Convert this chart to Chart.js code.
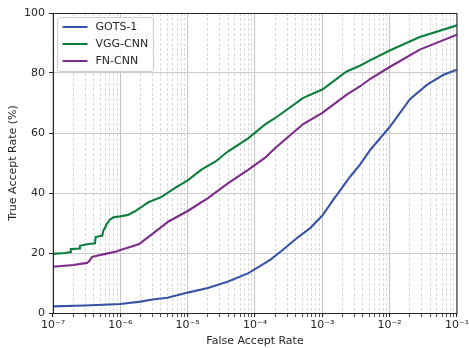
<!DOCTYPE html>
<html>
<head>
<meta charset="utf-8">
<script src="https://cdn.jsdelivr.net/npm/chart.js@4.4.1/dist/chart.umd.min.js"></script>
<style>
  html, body { margin: 0; padding: 0; background: #ffffff; }
  #wrap { width: 469px; height: 348px; position: relative; }
</style>
</head>
<body>
<div id="wrap"><canvas id="c" width="469" height="348"></canvas></div>
<script>
// ---- Data ----
const seriesLabels = ['GOTS-1', 'VGG-CNN', 'FN-CNN'];
const seriesColors = ['#3753a5', '#0c7f3d', '#7d2b8b'];

const gotsFar = [1e-7, 3e-7, 1e-6, 2e-6, 3e-6, 5e-6, 1e-5, 2e-5, 4e-5, 8e-5, 1.4e-4, 1.7e-4, 2.6e-4, 4.2e-4, 6.6e-4, 1e-3, 1.46e-3, 2.6e-3, 3.6e-3, 5.2e-3, 1e-2, 2e-2, 3.6e-2, 6.3e-2, 1e-1];
const gotsTar = [2.2, 2.5, 3.0, 3.8, 4.5, 5.1, 6.8, 8.3, 10.5, 13.3, 16.6, 17.8, 21.1, 25.0, 28.3, 32.5, 37.8, 45.5, 49.4, 54.5, 62.0, 71.3, 76.1, 79.4, 81.1];

const vggFar = [1e-7, 1.5e-7, 1.83e-7, 1.84e-7, 2.5e-7, 2.51e-7, 3.2e-7, 4.2e-7, 4.3e-7, 5.4e-7, 5.6e-7, 5.9e-7, 6.3e-7, 7e-7, 7.9e-7, 1e-6, 1.3e-6, 1.65e-6, 1.96e-6, 2.6e-6, 4.1e-6, 6.5e-6, 1e-5, 1.6e-5, 2.6e-5, 4e-5, 8e-5, 1.4e-4, 2e-4, 5.2e-4, 1e-3, 2.3e-3, 3.6e-3, 5.1e-3, 1e-2, 2.8e-2, 1e-1];
const vggTar = [19.7, 20.0, 20.3, 21.3, 21.5, 22.4, 22.9, 23.2, 25.3, 25.8, 27.5, 28.3, 29.7, 31.1, 31.9, 32.2, 32.7, 33.9, 35.0, 36.9, 38.7, 41.7, 44.2, 47.8, 50.5, 53.9, 58.3, 62.8, 65.0, 71.7, 74.5, 80.5, 82.4, 84.2, 87.5, 92.0, 95.9];

const fnFar = [1e-7, 2e-7, 3.2e-7, 3.5e-7, 3.8e-7, 4.5e-7, 6e-7, 8.8e-7, 1e-6, 1.4e-6, 1.9e-6, 2.9e-6, 5.2e-6, 1e-5, 2e-5, 4e-5, 8e-5, 1.4e-4, 2e-4, 5.2e-4, 1e-3, 2.3e-3, 3.6e-3, 5.1e-3, 1e-2, 2.8e-2, 1e-1];
const fnTar = [15.4, 16.0, 16.7, 17.5, 18.7, 19.1, 19.7, 20.5, 21.0, 22.0, 23.0, 26.1, 30.5, 34.0, 38.3, 43.3, 47.8, 51.7, 55.0, 63.0, 66.7, 72.8, 75.5, 78.0, 82.0, 87.8, 92.8];

// Axis ticks
const xDecades = [-7, -6, -5, -4, -3, -2, -1];
const xMultipliers = [1, 2, 3, 4, 5, 6, 7, 8, 9];
const yTicks = [0, 20, 40, 60, 80, 100];
const xTitle = 'False Accept Rate';
const yTitle = 'True Accept Rate (%)';

// ---- Build chart ----
const xTickValues = [];
xDecades.forEach((d, i) => {
  if (i === xDecades.length - 1) { xTickValues.push(Math.pow(10, d)); return; }
  xMultipliers.forEach(m => xTickValues.push(parseFloat((m * Math.pow(10, d)).toPrecision(3))));
});
const isMajor = v => Math.abs(Math.log10(v) - Math.round(Math.log10(v))) < 1e-6;
const sup = {'-': '\u207B', '0': '\u2070', '1': '\u00B9', '2': '\u00B2', '3': '\u00B3', '4': '\u2074', '5': '\u2075', '6': '\u2076', '7': '\u2077', '8': '\u2078', '9': '\u2079'};
const toSup = s => String(s).split('').map(ch => sup[ch] || ch).join('');

const mk = (xs, ys) => xs.map((x, i) => ({x: x, y: ys[i]}));
const seriesData = [mk(gotsFar, gotsTar), mk(vggFar, vggTar), mk(fnFar, fnTar)];

const textColor = '#262626';
const FONT = 'DejaVu Sans';

const framePlugin = {
  id: 'frame',
  afterDatasetsDraw(chart) {
    const a = chart.chartArea, ctx = chart.ctx;
    ctx.save();
    ctx.strokeStyle = '#262626';
    ctx.lineWidth = 1;
    ctx.strokeRect(Math.round(a.left) + 0.5, Math.round(a.top) + 0.5, Math.round(a.right - a.left) - 0.5, Math.round(a.bottom - a.top));
    ctx.restore();
  }
};

const legendPlugin = {
  id: 'insideLegend',
  afterDraw(chart) {
    const a = chart.chartArea, ctx = chart.ctx;
    const x0 = a.left + 4.5, y0 = a.top + 4.5, w = 96, h = 54, r = 3;
    ctx.save();
    ctx.beginPath();
    ctx.moveTo(x0 + r, y0);
    ctx.lineTo(x0 + w - r, y0); ctx.quadraticCurveTo(x0 + w, y0, x0 + w, y0 + r);
    ctx.lineTo(x0 + w, y0 + h - r); ctx.quadraticCurveTo(x0 + w, y0 + h, x0 + w - r, y0 + h);
    ctx.lineTo(x0 + r, y0 + h); ctx.quadraticCurveTo(x0, y0 + h, x0, y0 + h - r);
    ctx.lineTo(x0, y0 + r); ctx.quadraticCurveTo(x0, y0, x0 + r, y0);
    ctx.closePath();
    ctx.fillStyle = 'rgba(255,255,255,0.85)';
    ctx.fill();
    ctx.strokeStyle = '#cccccc';
    ctx.lineWidth = 1;
    ctx.stroke();
    ctx.font = '11px "' + FONT + '"';
    ctx.textBaseline = 'middle';
    ctx.textAlign = 'left';
    chart.data.datasets.forEach((ds, i) => {
      const yy = y0 + 9.5 + i * 17;
      ctx.strokeStyle = ds.borderColor;
      ctx.lineWidth = 2;
      ctx.beginPath();
      ctx.moveTo(x0 + 5, yy); ctx.lineTo(x0 + 30, yy);
      ctx.stroke();
      ctx.fillStyle = textColor;
      ctx.fillText(ds.label, x0 + 38, yy + 0.5);
    });
    ctx.restore();
  }
};

new Chart(document.getElementById('c'), {
  type: 'line',
  data: {
    datasets: seriesLabels.map((lab, i) => ({
      label: lab,
      data: seriesData[i],
      borderColor: seriesColors[i],
      backgroundColor: seriesColors[i],
      borderWidth: 2.1,
      pointRadius: 0,
      tension: 0,
      fill: false
    }))
  },
  options: {
    responsive: false,
    animation: false,
    layout: { padding: { left: 0, right: 12, top: 13, bottom: 0 } },
    plugins: { legend: { display: false }, tooltip: { enabled: false } },
    scales: {
      x: {
        type: 'logarithmic',
        min: 1e-7,
        max: 1e-1,
        afterBuildTicks: scale => { scale.ticks = xTickValues.map(v => ({value: v, major: isMajor(v)})); },
        afterFit: scale => { scale.height = 35; scale.paddingRight = 0; scale.paddingLeft = 0; },
        ticks: {
          autoSkip: false,
          maxRotation: 0,
          minRotation: 0,
          padding: 2,
          color: textColor,
          font: { family: FONT, size: 11 },
          callback: v => isMajor(v) ? '10' + toSup(Math.round(Math.log10(v))) : ''
        },
        grid: {
          color: c => (c.tick && isMajor(c.tick.value)) ? '#c6c6c6' : '#cfcfcf',
          lineWidth: c => (c.tick && isMajor(c.tick.value)) ? 1.1 : 0.8,
          tickLength: 4,
          tickColor: textColor
        },
        border: {
          color: textColor,
          width: 1,
          dash: c => (c.tick && !isMajor(c.tick.value)) ? [3, 2] : []
        },
        title: {
          display: true,
          text: xTitle,
          color: textColor,
          font: { family: FONT, size: 11 },
          padding: { top: 0, bottom: 0 }
        }
      },
      y: {
        type: 'linear',
        min: 0,
        max: 100,
        afterBuildTicks: scale => { scale.ticks = yTicks.map(v => ({value: v})); },
        afterFit: scale => { scale.width = 53; scale.paddingTop = 0; scale.paddingBottom = 0; },
        ticks: {
          padding: 4,
          color: textColor,
          font: { family: FONT, size: 11 }
        },
        grid: {
          color: '#cccccc',
          lineWidth: 1,
          tickLength: 4,
          tickColor: textColor
        },
        border: { color: textColor, width: 1 },
        title: {
          display: true,
          text: yTitle,
          color: textColor,
          font: { family: FONT, size: 11 },
          padding: { top: 7, bottom: 0 }
        }
      }
    }
  },
  plugins: [framePlugin, legendPlugin]
});
</script>
</body>
</html>
